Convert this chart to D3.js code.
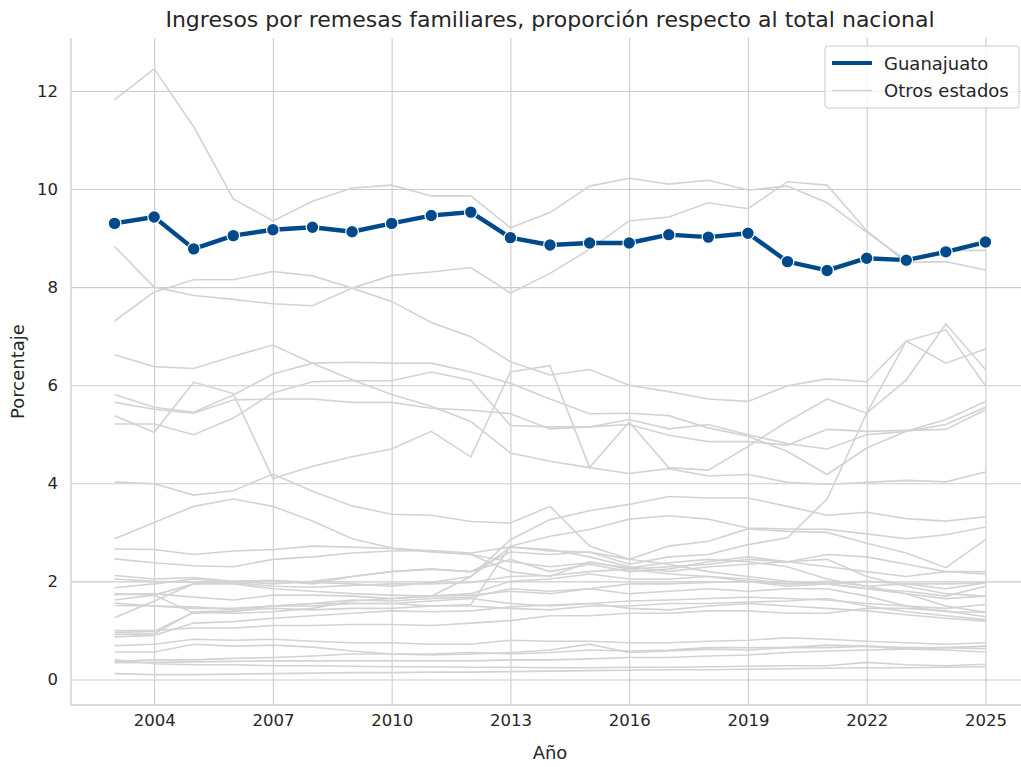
<!DOCTYPE html>
<html>
<head>
<meta charset="utf-8">
<script src="https://cdn.jsdelivr.net/npm/d3@7"></script>
<style>
  body { margin: 0; background: #fff; }
  text { font-family: "DejaVu Sans", sans-serif; fill: #262626; }
</style>
</head>
<body>
<svg id="chart" width="1021" height="767"></svg>
<script>
var years = d3.range(2003, 2026);
var xTicks = [2004, 2007, 2010, 2013, 2016, 2019, 2022, 2025];
var yTicks = [0, 2, 4, 6, 8, 10, 12];

var guanajuato = [9.3, 9.43, 8.78, 9.05, 9.17, 9.22, 9.13, 9.3, 9.46, 9.53, 9.01, 8.86, 8.9, 8.9, 9.07, 9.02, 9.1, 8.52, 8.34, 8.59, 8.55, 8.72, 8.92];

// one row per state, 2003..2025
var otrosEstados = [
  [11.82, 12.45, 11.27, 9.8, 9.35, 9.75, 10.02, 10.08, 9.86, 9.86, 9.21, 9.52, 10.06, 10.22, 10.1, 10.18, 9.98, 10.06, 9.72, 9.12, 8.55, 8.75, 8.75],
  [7.31, 7.9, 8.15, 8.15, 8.32, 8.23, 7.98, 8.24, 8.31, 8.4, 7.88, 8.28, 8.77, 9.35, 9.43, 9.72, 9.6, 10.15, 10.08, 9.15, 8.5, 8.52, 8.35],
  [8.83, 8.0, 7.83, 7.75, 7.66, 7.62, 7.98, 7.71, 7.28, 6.99, 6.48, 6.21, 6.32, 6.0, 5.87, 5.72, 5.67, 5.99, 6.13, 6.07, 6.9, 6.45, 6.74],
  [6.62, 6.38, 6.34, 6.59, 6.82, 6.45, 6.11, 5.81, 5.57, 5.26, 4.62, 4.45, 4.32, 4.2, 4.3, 4.15, 4.18, 4.02, 3.98, 4.02, 4.06, 4.03, 4.23],
  [5.81, 5.55, 5.45, 5.8, 6.23, 6.45, 6.47, 6.45, 6.45, 6.27, 6.04, 5.72, 5.42, 5.43, 5.38, 5.13, 4.96, 4.65, 4.18, 4.72, 5.06, 5.3, 5.67],
  [5.65, 5.51, 5.43, 5.7, 5.72, 5.72, 5.65, 5.65, 5.53, 5.49, 5.42, 5.11, 5.15, 5.3, 5.11, 5.2, 4.99, 4.81, 4.7, 4.99, 5.06, 5.2, 5.55],
  [5.21, 5.21, 4.99, 5.33, 5.84, 6.07, 6.09, 6.09, 6.27, 6.1, 5.18, 5.15, 5.15, 5.2, 4.98, 4.85, 4.85, 4.78, 5.1, 5.06, 5.08, 5.1, 5.5],
  [5.38, 5.04, 6.06, 5.83, 4.1, 4.35, 4.54, 4.7, 5.06, 4.54, 6.27, 6.4, 4.32, 5.25, 4.32, 4.27, 4.75, 5.26, 5.72, 5.43, 6.11, 7.25, 6.32],
  [1.26, 1.6, 1.95, 2.0, 2.02, 1.95, 2.1, 2.2, 2.25, 2.2, 2.6, 2.55, 2.6, 2.35, 2.5, 2.55, 2.75, 2.89, 3.68, 5.43, 6.9, 7.13, 5.99],
  [4.03, 3.99, 3.76, 3.85, 4.19, 3.84, 3.54, 3.37, 3.35, 3.22, 3.19, 3.53, 2.72, 2.45, 2.35, 2.2, 2.1, 2.0, 1.95, 1.85, 1.75, 1.65, 1.7],
  [2.87, 3.2, 3.53, 3.68, 3.53, 3.23, 2.87, 2.68, 2.62, 2.55, 2.2, 2.1, 2.4, 2.25, 2.15, 2.1, 2.05, 1.95, 1.95, 2.0, 1.95, 1.95, 1.97],
  [2.12, 2.05, 2.08, 2.0, 2.02, 1.98, 1.95, 1.9, 1.98, 2.1, 2.85, 3.26, 3.44, 3.57, 3.73, 3.7, 3.7, 3.53, 3.35, 3.41, 3.28, 3.23, 3.32],
  [1.51, 1.5, 1.45, 1.45, 1.5, 1.5, 1.55, 1.55, 1.5, 1.53, 2.72, 2.92, 3.06, 3.27, 3.34, 3.27, 3.09, 3.07, 3.06, 2.97, 2.87, 2.95, 3.11],
  [2.66, 2.65, 2.55, 2.62, 2.65, 2.72, 2.7, 2.67, 2.6, 2.55, 2.4, 2.3, 2.38, 2.28, 2.38, 2.45, 2.4, 2.3, 2.05, 1.9, 1.75, 1.5, 1.37],
  [2.46, 2.38, 2.32, 2.3, 2.45, 2.5, 2.58, 2.62, 2.63, 2.58, 2.7, 2.62, 2.6, 2.45, 2.72, 2.82, 3.07, 3.02, 3.0, 2.78, 2.58, 2.28, 2.85],
  [1.87, 1.95, 2.05, 1.98, 1.9, 1.88, 1.92, 1.95, 1.95, 1.98, 2.1, 2.12, 2.2, 2.25, 2.3, 2.35, 2.45, 2.4, 2.3, 2.2, 2.1, 2.2, 2.2],
  [1.73, 1.75, 1.68, 1.62, 1.72, 1.72, 1.7, 1.65, 1.7, 1.72, 1.8, 1.75, 1.85, 1.95, 1.95, 1.98, 2.0, 1.95, 2.0, 1.9, 1.95, 1.85, 1.97],
  [1.56, 1.5, 1.48, 1.43, 1.5, 1.55, 1.55, 1.55, 1.6, 1.65, 1.55, 1.5, 1.55, 1.6, 1.62, 1.65, 1.68, 1.65, 1.62, 1.55, 1.5, 1.45, 1.53],
  [0.96, 0.98, 1.37, 1.35, 1.38, 1.45, 1.6, 1.65, 1.7, 2.1, 2.7, 2.65, 2.5, 2.3, 2.2, 2.3, 2.35, 2.4, 2.45, 2.1, 1.9, 1.75, 1.7],
  [0.92, 0.93, 1.38, 1.4, 1.45, 1.42, 1.45, 1.45, 1.5, 1.5, 1.45, 1.42, 1.5, 1.5, 1.55, 1.55, 1.58, 1.6, 1.65, 1.5, 1.38, 1.3, 1.22],
  [0.87, 0.9, 1.15, 1.18, 1.25, 1.3, 1.35, 1.4, 1.38, 1.4, 1.48, 1.52, 1.55, 1.45, 1.42, 1.5, 1.55, 1.5, 1.45, 1.4, 1.32, 1.25, 1.19],
  [0.69, 0.72, 0.82, 0.8, 0.82, 0.78, 0.75, 0.75, 0.72, 0.72, 0.8, 0.78, 0.78, 0.75, 0.75, 0.78, 0.8, 0.85, 0.82, 0.78, 0.75, 0.72, 0.75],
  [0.56, 0.56, 0.72, 0.68, 0.7, 0.66, 0.58, 0.52, 0.5, 0.52, 0.55, 0.6, 0.72, 0.55, 0.58, 0.62, 0.6, 0.65, 0.7, 0.68, 0.62, 0.6, 0.56],
  [0.37, 0.4, 0.4, 0.43, 0.45, 0.48, 0.52, 0.52, 0.52, 0.55, 0.52, 0.55, 0.6, 0.58, 0.6, 0.65, 0.65, 0.65, 0.65, 0.68, 0.65, 0.65, 0.63],
  [0.34, 0.35, 0.36, 0.37, 0.38, 0.38, 0.38, 0.38, 0.38, 0.38, 0.4, 0.4, 0.42, 0.45, 0.45, 0.48, 0.5, 0.55, 0.58, 0.6, 0.62, 0.65, 0.68],
  [0.12, 0.1, 0.1, 0.11, 0.12, 0.13, 0.14, 0.14, 0.15, 0.15, 0.16, 0.17, 0.18, 0.19, 0.2, 0.2, 0.21, 0.22, 0.23, 0.24, 0.24, 0.25, 0.26],
  [0.4, 0.32, 0.3, 0.3, 0.28, 0.28, 0.27, 0.26, 0.26, 0.25, 0.25, 0.24, 0.24, 0.25, 0.25, 0.26, 0.27, 0.28, 0.28, 0.35, 0.3, 0.28, 0.31],
  [1.0, 1.0, 1.05, 1.05, 1.1, 1.1, 1.12, 1.12, 1.1, 1.15, 1.2, 1.3, 1.3, 1.35, 1.35, 1.4, 1.4, 1.35, 1.35, 1.45, 1.45, 1.4, 1.28],
  [2.05, 2.0, 1.98, 2.0, 1.95, 2.0, 2.1, 2.2, 2.25, 2.2, 2.45, 2.2, 2.35, 2.2, 2.25, 2.4, 2.5, 2.4, 2.55, 2.5, 2.35, 2.2, 2.15],
  [1.62, 1.72, 1.35, 1.38, 1.5, 1.55, 1.62, 1.6, 1.65, 1.68, 1.85, 1.8, 1.85, 1.75, 1.8, 1.85, 1.8, 1.85, 1.85, 1.7, 1.5, 1.38, 1.37],
  [1.75, 1.72, 1.95, 1.95, 1.85, 1.8, 1.75, 1.72, 1.7, 1.75, 2.0, 2.05, 2.15, 2.05, 2.05, 2.1, 2.0, 1.9, 1.95, 1.85, 1.8, 1.7, 1.9]
];

var blue = "#004a8b";
var gray = "#d3d3d3";
var gridColor = "#cccccc";

var margin = {left: 71, top: 38, right: 1029, bottom: 705};

var svg = d3.select("#chart");

var x = d3.scaleLinear().domain([2001.9, 2026.1]).range([margin.left, margin.right]);
var y = d3.scaleLinear().domain([-0.52, 13.08]).range([margin.bottom, margin.top]);

// grid
svg.append("g")
  .attr("transform", "translate(0," + margin.bottom + ")")
  .call(d3.axisBottom(x).tickValues(xTicks).tickSize(-(margin.bottom - margin.top)).tickFormat(d3.format("d")).tickPadding(9))
  .call(function(g) {
    g.select(".domain").remove();
    g.selectAll(".tick line").attr("stroke", gridColor).attr("stroke-width", 1.1);
    g.selectAll(".tick text").attr("font-size", 16.5).attr("font-family", "DejaVu Sans").attr("fill", "#262626");
  });

svg.append("g")
  .attr("transform", "translate(" + margin.left + ",0)")
  .call(d3.axisLeft(y).tickValues(yTicks).tickSize(-(margin.right - margin.left)).tickPadding(13))
  .call(function(g) {
    g.select(".domain").remove();
    g.selectAll(".tick line").attr("stroke", gridColor).attr("stroke-width", 1.1);
    g.selectAll(".tick text").attr("font-size", 16.5).attr("font-family", "DejaVu Sans").attr("fill", "#262626");
  });

// spines left + bottom
svg.append("line").attr("x1", margin.left).attr("x2", margin.left)
  .attr("y1", margin.top).attr("y2", margin.bottom)
  .attr("stroke", gridColor).attr("stroke-width", 1.3);
svg.append("line").attr("x1", margin.left).attr("x2", margin.right)
  .attr("y1", margin.bottom).attr("y2", margin.bottom)
  .attr("stroke", gridColor).attr("stroke-width", 1.3);

var line = d3.line()
  .x(function(d, i) { return x(years[i]); })
  .y(function(d) { return y(d); });

svg.append("g").selectAll("path")
  .data(otrosEstados)
  .enter().append("path")
  .attr("d", line)
  .attr("fill", "none")
  .attr("stroke", gray)
  .attr("stroke-width", 1.6);

svg.append("path")
  .datum(guanajuato)
  .attr("d", line)
  .attr("fill", "none")
  .attr("stroke", blue)
  .attr("stroke-width", 4.4)
  .attr("stroke-linejoin", "round");

svg.append("g").selectAll("circle")
  .data(guanajuato)
  .enter().append("circle")
  .attr("cx", function(d, i) { return x(years[i]); })
  .attr("cy", function(d) { return y(d); })
  .attr("r", 6.3)
  .attr("fill", blue)
  .attr("stroke", "#fff")
  .attr("stroke-width", 1.2);

// titles
svg.append("text")
  .attr("x", (margin.left + margin.right) / 2)
  .attr("y", 27)
  .attr("text-anchor", "middle")
  .attr("font-size", 22)
  .text("Ingresos por remesas familiares, proporción respecto al total nacional");

svg.append("text")
  .attr("x", (margin.left + margin.right) / 2)
  .attr("y", 759)
  .attr("text-anchor", "middle")
  .attr("font-size", 18)
  .text("Año");

svg.append("text")
  .attr("transform", "translate(24," + ((margin.top + margin.bottom) / 2) + ") rotate(-90)")
  .attr("text-anchor", "middle")
  .attr("font-size", 18)
  .text("Porcentaje");

// legend
var legend = svg.append("g").attr("transform", "translate(825,46)");
legend.append("rect")
  .attr("width", 194).attr("height", 62).attr("rx", 3)
  .attr("fill", "#fff").attr("fill-opacity", 0.8)
  .attr("stroke", gridColor).attr("stroke-width", 1);
var items = [
  {label: "Guanajuato", color: blue, width: 4},
  {label: "Otros estados", color: gray, width: 1.6}
];
var li = legend.selectAll("g.item").data(items).enter().append("g")
  .attr("transform", function(d, i) { return "translate(0," + (17 + i * 27.5) + ")"; });
li.append("line").attr("x1", 7).attr("x2", 47)
  .attr("stroke", function(d) { return d.color; })
  .attr("stroke-width", function(d) { return d.width; });
li.append("text").attr("x", 59).attr("y", 6.5)
  .attr("font-size", 18)
  .text(function(d) { return d.label; });
</script>
</body>
</html>
